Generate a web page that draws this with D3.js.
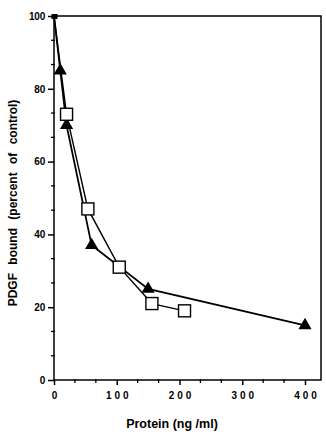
<!DOCTYPE html>
<html><head><meta charset="utf-8">
<script src="https://cdn.jsdelivr.net/npm/d3@7"></script>
<style>body{margin:0;background:#fff}text{font-family:"Liberation Sans",Arial,sans-serif;font-weight:bold;fill:#000}</style>
</head><body><svg id="c" width="326" height="432"></svg>
<script>
const triX = [0, 10, 20, 60, 150, 400];
const triY = [100, 85, 70, 37, 25, 15];
const sqX = [0, 20, 54, 104, 156, 208];
const sqY = [100, 73, 47, 31, 21, 19];
const xTicks = [0, 100, 200, 300, 400];
const yTicks = [0, 20, 40, 60, 80, 100];

const svg = d3.select("#c");
const L = 54, R = 321, T = 16, B = 380;
const x = d3.scaleLinear().domain([0, 400]).range([54, 305]);
const y = d3.scaleLinear().domain([0, 100]).range([380, 16]);

// frame
svg.append("rect").attr("x", L).attr("y", T).attr("width", R - L).attr("height", B - T)
  .attr("fill", "none").attr("stroke", "#000").attr("stroke-width", 1.5);

// y axis
const yAxis = d3.axisLeft(y).tickValues(yTicks).tickSize(6).tickPadding(3);
const gy = svg.append("g").attr("transform", `translate(${L},0)`).call(yAxis);
gy.select(".domain").remove();
gy.selectAll("line").attr("stroke-width", 1.5);
gy.selectAll("text").style("font-size", "10px").style("letter-spacing", "-0.2px");
const yMinor = d3.range(0, 100, 20 / 3).filter(v => Math.abs(v % 20) > 0.1 && Math.abs(v % 20 - 20) > 0.1);
svg.append("g").selectAll("line").data(yMinor).join("line")
  .attr("x1", L - 3).attr("x2", L + 1).attr("y1", d => y(d)).attr("y2", d => y(d))
  .attr("stroke", "#000").attr("stroke-width", 1.3);

// x axis
const xAxis = d3.axisBottom(x).tickValues(xTicks).tickSize(5).tickPadding(7);
const gx = svg.append("g").attr("transform", `translate(0,${B})`).call(xAxis);
gx.select(".domain").remove();
gx.selectAll("line").attr("stroke-width", 1.5);
gx.selectAll("text").style("font-size", "10px").style("letter-spacing", "3px").attr("dx", "1.5px");
const xMinor = d3.range(0, 426, 100 / 3).filter(v => Math.abs(v % 100) > 0.1 && Math.abs(v % 100 - 100) > 0.1);
svg.append("g").selectAll("line").data(xMinor).join("line")
  .attr("x1", d => x(d)).attr("x2", d => x(d)).attr("y1", B - 1).attr("y2", B + 3)
  .attr("stroke", "#000").attr("stroke-width", 1.3);

// lines
const line = d3.line().x(d => x(d[0])).y(d => y(d[1]));
const tri = triX.map((v, i) => [v, triY[i]]);
const sq = sqX.map((v, i) => [v, sqY[i]]);
svg.append("path").datum(tri).attr("d", line).attr("fill", "none").attr("stroke", "#000").attr("stroke-width", 1.8);
svg.append("path").datum(sq).attr("d", line).attr("fill", "none").attr("stroke", "#000").attr("stroke-width", 1.4);

// markers
svg.append("g").selectAll("path").data(tri.slice(1)).join("path")
  .attr("d", d3.symbol(d3.symbolTriangle, 75))
  .attr("transform", d => `translate(${x(d[0])},${y(d[1])})`).attr("fill", "#000");
svg.append("g").selectAll("rect").data(sq.slice(1)).join("rect")
  .attr("x", d => x(d[0]) - 6).attr("y", d => y(d[1]) - 6).attr("width", 12).attr("height", 12)
  .attr("fill", "#fff").attr("stroke", "#000").attr("stroke-width", 1.4);
// shared starting point
svg.append("rect").attr("x", x(0) - 2.5).attr("y", y(100) - 2).attr("width", 6).attr("height", 5).attr("fill", "#000");

// labels
svg.append("text").attr("x", 172).attr("y", 428).attr("text-anchor", "middle")
  .style("font-size", "12.5px").text("Protein (ng /ml)");
svg.append("text").attr("transform", "translate(17,203) rotate(-90)").attr("text-anchor", "middle")
  .style("font-size", "12px").style("word-spacing", "5px")
  .text("PDGF bound (percent of control)");
</script></body></html>
